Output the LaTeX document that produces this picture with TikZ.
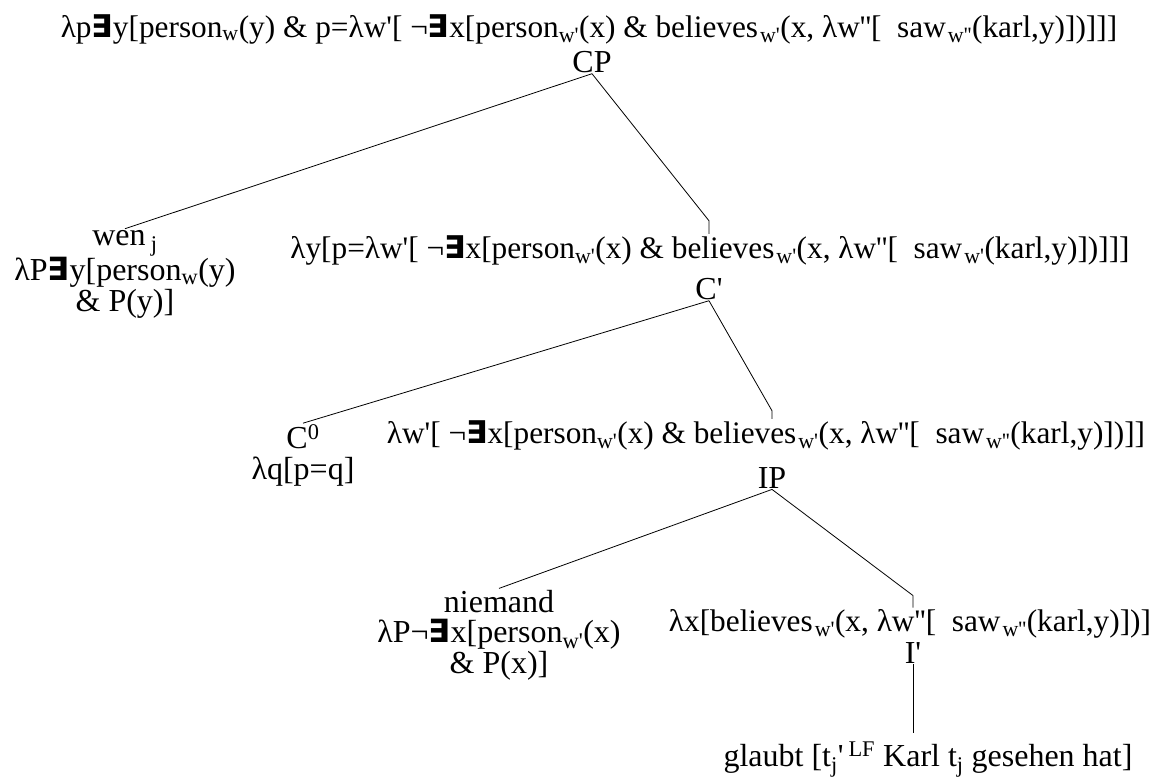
\documentclass[tikz,border=0pt]{standalone}
\usepackage{fontspec}
\setmainfont{Liberation Serif}[Ligatures=TeXOff]
\newfontfamily\symfont{DejaVu Sans}
\newcommand{\ex}{{\symfont\bfseries ∃}}
\newcommand{\lam}{λ}
\newcommand{\sub}[1]{\textsubscript{#1}}
\newcommand{\gapsub}[1]{\kern2pt\textsubscript{#1}}

\begin{document}
\begin{tikzpicture}[x=1pt, y=-1pt, line width=0.8pt,
  every node/.style={font=\fontsize{32}{30.5}\selectfont, inner sep=1pt},
  sem/.style={anchor=base, font=\fontsize{31.3}{30.5}\selectfont},
  cat/.style={anchor=base},
  leaf/.style={anchor=base, align=center}]
\useasboundingbox (0,0) rectangle (1164,777);

% CP
\node[sem] (semCP) at (589,37) {\lam p\ex y[person\sub{w}(y) \& p=\lam w'[ ¬\ex x[person\sub{w'}(x) \& believes\gapsub{w'}(x, \lam w''[\ \ saw\gapsub{w''}(karl,y)])]]]};
\node[cat] (CP) at (592,72) {CP};

% wen and C' (leaf base = last line)
\node[leaf] (wen) at (125,311) {wen\,\sub{j}\\\lam P\ex y[person\sub{w}(y)\\\& P(y)]};
\node[sem] (semCbar) at (710,258) {\lam y[p=\lam w'[ ¬\ex x[person\sub{w'}(x) \& believes\gapsub{w'}(x, \lam w''[\ \ saw\gapsub{w'}(karl,y)])]]]};
\node[cat] (Cbar) at (709,299) {C'};

% C0 and IP
\node[leaf] (C0) at (303,479) {C\textsuperscript{0}\\\lam q[p=q]};
\node[sem] (semIP) at (766,443) {\lam w'[ ¬\ex x[person\sub{w'}(x) \& believes\gapsub{w'}(x, \lam w''[\ \ saw\gapsub{w''}(karl,y)])]]};
\node[cat] (IP) at (772,488) {IP};

% niemand and I'
\node[leaf] (niemand) at (499,673) {niemand\\\lam P¬\ex x[person\sub{w'}(x)\\\& P(x)]};
\node[sem] (semIbar) at (910,631) {\lam x[believes\gapsub{w'}(x, \lam w''[\ \ saw\gapsub{w''}(karl,y)])]};
\node[cat] (Ibar) at (913,663) {I'};
\node[cat] (glaubt) at (928,766) {glaubt [t\sub{j}'\kern5pt\textsuperscript{LF} Karl t\sub{j} gesehen hat]};

\coordinate (tCbar) at (semCbar.north -| Cbar);
\coordinate (tIP) at (semIP.north -| IP);
\coordinate (tIbar) at (semIbar.north -| Ibar);
\coordinate (tglaubt) at ([yshift=8pt]glaubt.north -| Ibar);

\draw (CP.south) -- (wen.north);
\draw (CP.south) -- ([yshift=13pt]tCbar) -- (tCbar);
\draw (Cbar.south) -- (C0.north);
\draw (Cbar.south) -- ([yshift=8pt]tIP) -- (tIP);
\draw (IP.south) -- (niemand.north);
\draw (IP.south) -- ([yshift=12pt]tIbar) -- (tIbar);
\draw (Ibar.south) -- (tglaubt);
\end{tikzpicture}
\end{document}
